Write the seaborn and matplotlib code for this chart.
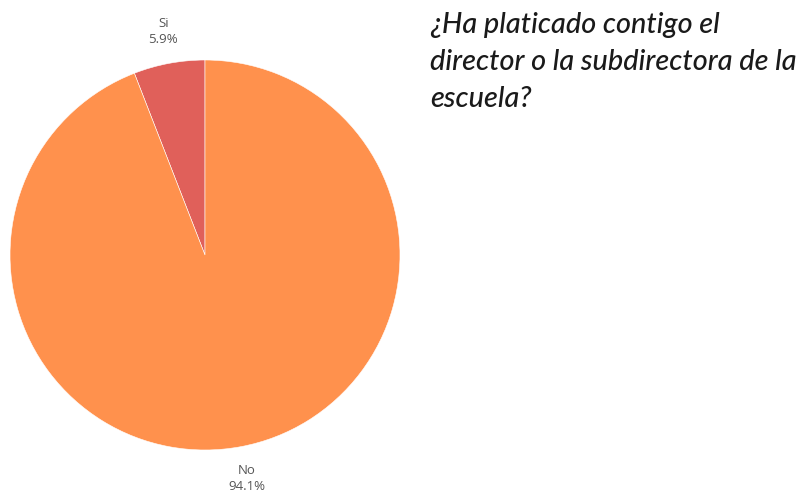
import matplotlib as mpl

mpl.use('Agg')
import matplotlib.pyplot as plt
import seaborn as sns

# data
labels = ['Si', 'No']
shares = [5.9, 94.1]
colors = ['#E0605A', '#FF914D']
title = '¿Ha platicado contigo el\ndirector o la subdirectora de la\nescuela?'

sns.set_theme(style='white')
plt.rcParams['font.family'] = ['Open Sans', 'DejaVu Sans']

fig = plt.figure(figsize=(8.06, 4.97), dpi=100)
ax = fig.add_axes([10 / 806, 47 / 497, 390 / 806, 390 / 497])

wedges, texts = ax.pie(shares,
                       labels=[f'{l}\n{v}%' for l, v in zip(labels, shares)],
                       colors=colors,
                       startangle=90,
                       counterclock=True,
                       labeldistance=1.165,
                       wedgeprops=dict(linewidth=0.4, edgecolor='white'),
                       textprops=dict(fontsize=9.5, color='#555555',
                                      linespacing=1.35))
for t in texts:
    t.set_ha('center')
ax.set_aspect('equal')
ax.set_xlim(-1, 1)
ax.set_ylim(-1, 1)

fig.text(430 / 806, 1 - 12 / 497, title,
         family=['Lato', 'DejaVu Sans'], style='italic', fontweight='medium',
         fontsize=20.8, color='#1a1a1a', ha='left', va='top', linespacing=1.52)

plt.savefig('out.png', dpi=100)
